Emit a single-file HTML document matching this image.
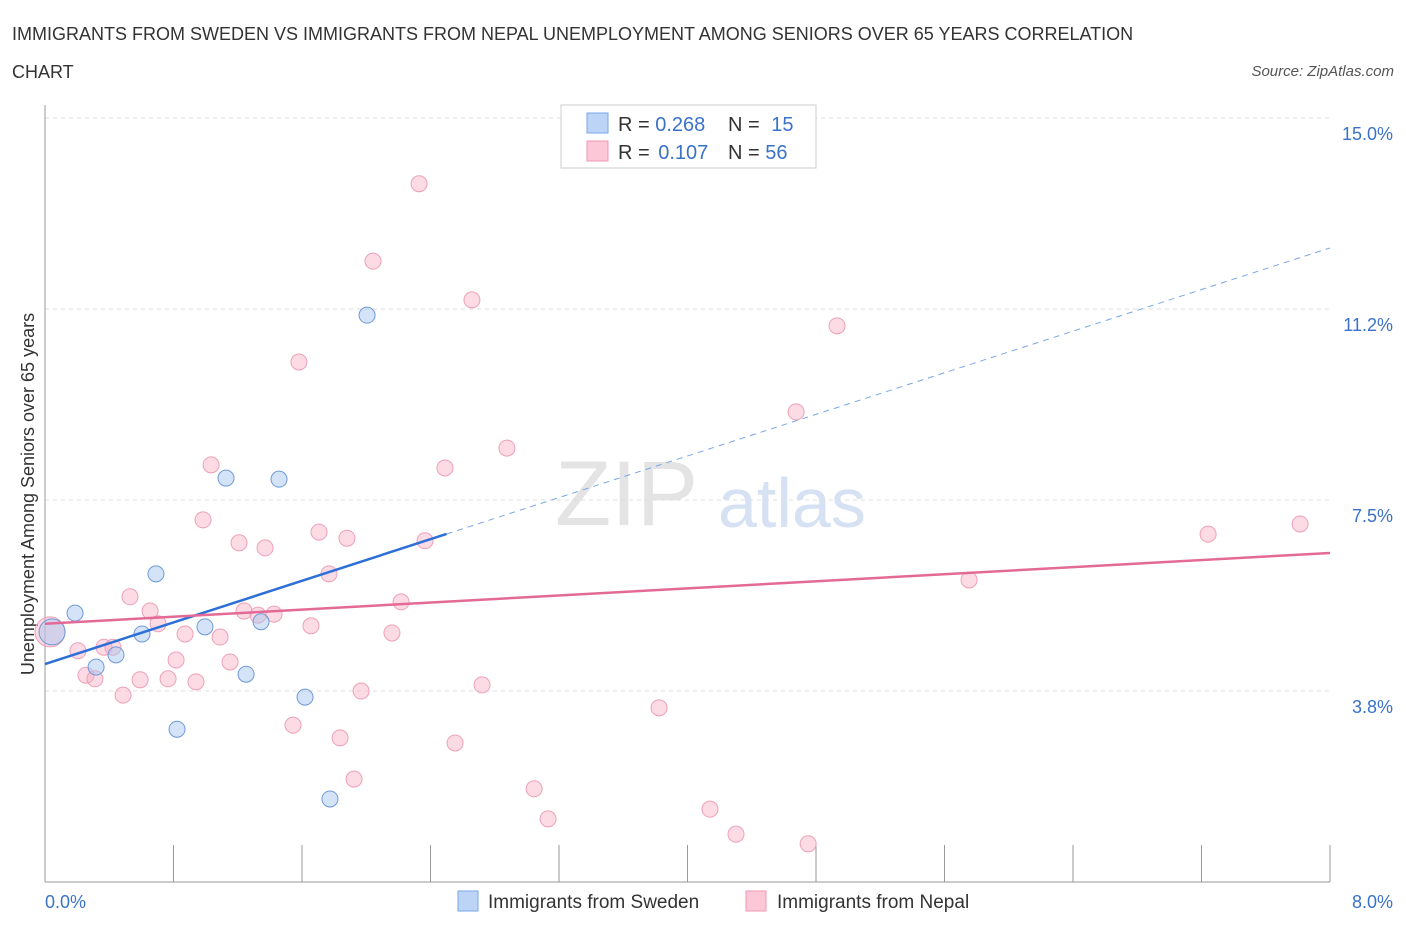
<!DOCTYPE html>
<html><head><meta charset="utf-8"><style>
body{margin:0;background:#fff;font-family:"Liberation Sans",sans-serif;}
svg text{font-family:"Liberation Sans",sans-serif;}
</style></head><body>
<svg id="chart" width="1406" height="930" viewBox="0 0 1406 930" xmlns="http://www.w3.org/2000/svg">
<text x="12" y="40" font-size="18" fill="#333">IMMIGRANTS FROM SWEDEN VS IMMIGRANTS FROM NEPAL UNEMPLOYMENT AMONG SENIORS OVER 65 YEARS CORRELATION</text>
<text x="12" y="78" font-size="18" fill="#333">CHART</text>
<text x="1394" y="76" font-size="15" fill="#555" font-style="italic" text-anchor="end">Source: ZipAtlas.com</text>
<text x="555" y="525" font-size="92" fill="#e4e4e4" font-family="Liberation Serif">ZIP</text>
<text x="718" y="527" font-size="70" fill="#d6e2f3">atlas</text>
<g id="grid"></g>
<line x1="45" y1="105" x2="45" y2="882" stroke="#999"/>
<line x1="45" y1="882" x2="1330" y2="882" stroke="#999"/>
<text transform="translate(34,494) rotate(-90)" font-size="18" fill="#333" text-anchor="middle">Unemployment Among Seniors over 65 years</text>
<g id="pts"></g>
<g id="lines"></g>
<g>
<rect x="561" y="105" width="255" height="63" fill="#fff" stroke="#ccc"/>
<rect x="587" y="113" width="21" height="20" fill="#bcd4f6" stroke="#7aa6e8"/>
<rect x="587" y="141" width="21" height="20" fill="#fcc8d8" stroke="#ef98b4"/>
<text x="618" y="131" font-size="20" fill="#333">R = <tspan fill="#3a72c8">0.268</tspan></text>
<text x="728" y="131" font-size="20" fill="#333">N = <tspan fill="#3a72c8" dx="6">15</tspan></text>
<text x="618" y="159" font-size="20" fill="#333">R = <tspan fill="#3a72c8" dx="3">0.107</tspan></text>
<text x="728" y="159" font-size="20" fill="#333">N = <tspan fill="#3a72c8">56</tspan></text>
</g>
<g>
<rect x="458" y="891" width="20" height="20" fill="#bcd4f6" stroke="#7aa6e8"/>
<text x="488" y="908" font-size="19" fill="#333">Immigrants from Sweden</text>
<rect x="746" y="891" width="20" height="20" fill="#fcc8d8" stroke="#ef98b4"/>
<text x="777" y="908" font-size="19" fill="#333">Immigrants from Nepal</text>
</g>
<text x="45" y="908" font-size="18" fill="#3a72c8">0.0%</text>
<text x="1393" y="908" font-size="18" fill="#3a72c8" text-anchor="end">8.0%</text>
</svg>
<script>
const yTicks=[15.0,11.25,7.5,3.75];
const yTickLabels=["15.0%","11.2%","7.5%","3.8%"];
const xTicks=[0,0.8,1.6,2.4,3.2,4.0,4.8,5.6,6.4,7.2,8.0];
const swedenX=[0.044,0.187,0.318,0.442,0.604,0.691,0.822,0.996,1.127,1.252,1.345,1.457,1.619,1.774,2.005];
const swedenY=[4.91,5.28,4.22,4.46,4.87,6.05,3.00,5.01,7.93,4.08,5.11,7.91,3.63,1.63,11.13];
const nepalX=[0.031,0.205,0.255,0.311,0.367,0.423,0.486,0.529,0.592,0.654,0.704,0.766,0.816,0.872,0.940,0.984,1.034,1.090,1.152,1.208,1.239,1.326,1.370,1.426,1.544,1.581,1.656,1.706,1.768,1.837,1.880,1.924,1.968,2.042,2.160,2.217,2.329,2.366,2.490,2.553,2.658,2.721,2.876,3.045,3.132,3.823,4.140,4.302,4.676,4.751,4.931,5.753,7.241,7.814];
const nepalY=[4.91,4.54,4.06,3.99,4.61,4.61,3.67,5.60,3.97,5.32,5.07,3.99,4.36,4.87,3.93,7.11,8.19,4.81,4.32,6.66,5.32,5.24,6.56,5.26,3.08,10.21,5.03,6.87,6.05,2.83,6.75,2.02,3.75,12.19,4.89,5.50,13.71,6.70,8.13,2.73,11.43,3.87,8.52,1.83,1.24,3.42,1.43,0.94,9.23,0.75,10.92,5.93,6.83,7.03];
const swedenTrend=[4.28,12.45];
const nepalTrend=[5.07,6.46];
const NS="http://www.w3.org/2000/svg";
const X=v=>45+v/8*1285, Y=v=>882-v*50.93;
function mk(t,a,p){const e=document.createElementNS(NS,t);for(const k in a)e.setAttribute(k,a[k]);p.appendChild(e);return e;}
const grid=document.getElementById('grid');
yTicks.forEach((t,i)=>{
 const l=mk('line',{x1:45,x2:1330,y1:Y(t),y2:Y(t),stroke:'#ddd','stroke-dasharray':'4,4'},grid);
 
 
 const tx=mk('text',{x:1393,y:Y(t)+22,'font-size':18,fill:'#3a72c8','text-anchor':'end'},grid);
 tx.textContent=yTickLabels[i];
 
 
});
xTicks.forEach(t=>{
 const l=mk('line',{x1:X(t),x2:X(t),y1:845,y2:882,stroke:'#999'},grid);
 
 
});
const pts=document.getElementById('pts');
nepalX.forEach((x,i)=>{
 const c=mk('circle',{cx:X(x),cy:Y(nepalY[i]),r:i==0?15:8,fill:'rgba(248,175,198,0.45)',stroke:'#eea0b8','stroke-width':1},pts);
 
 
});
swedenX.forEach((x,i)=>{
 const c=mk('circle',{cx:X(x),cy:Y(swedenY[i]),r:i==0?13:8,fill:'rgba(170,200,240,0.5)',stroke:'#6f9ad8','stroke-width':1},pts);
 
 
});
const lines=document.getElementById('lines');
const sAt=x=>swedenTrend[0]+(swedenTrend[1]-swedenTrend[0])*x/8;
let l1=mk('line',{x1:X(0),y1:Y(sAt(0)),x2:X(2.5),y2:Y(sAt(2.5)),stroke:'#2c6fd6','stroke-width':2.5},lines);


let l2=mk('line',{x1:X(2.5),y1:Y(sAt(2.5)),x2:X(8),y2:Y(sAt(8)),stroke:'#7aa6e8','stroke-width':1,'stroke-dasharray':'6,5'},lines);


let l3=mk('line',{x1:X(0),y1:Y(nepalTrend[0]),x2:X(8),y2:Y(nepalTrend[1]),stroke:'#e46a96','stroke-width':2.5},lines);


</script>
</body></html>
